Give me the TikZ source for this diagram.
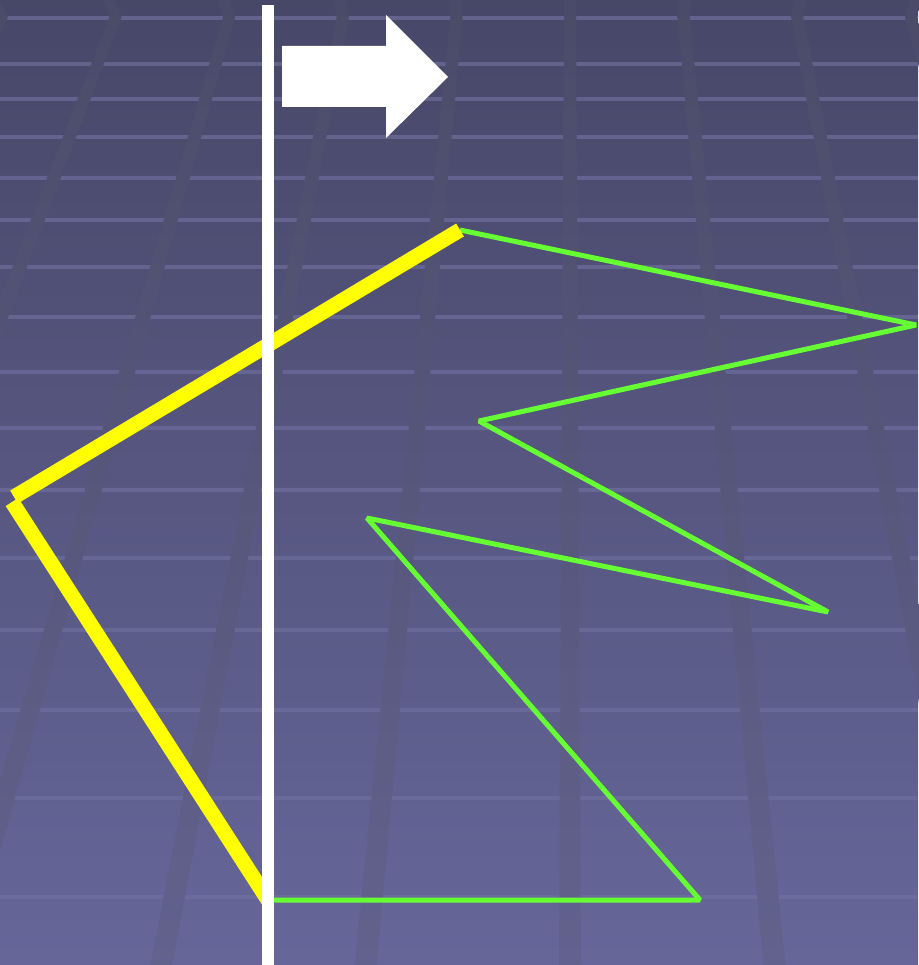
\documentclass[tikz,border=0pt]{standalone}
\usetikzlibrary{calc}

\definecolor{bgtop}{RGB}{71,71,104}
\definecolor{bgbottom}{RGB}{102,102,154}
\definecolor{tileline}{RGB}{112,112,160}
\definecolor{groutline}{RGB}{88,88,108}
\definecolor{sweepgreen}{RGB}{102,255,51}
\definecolor{hullyellow}{RGB}{255,255,0}

\tikzset{
    floorshade/.style={top color=bgtop, bottom color=bgbottom},
    hulledge/.style={line width=15pt, hullyellow, line cap=butt},
    chainedge/.style={line width=5pt, sweepgreen, line join=bevel, line cap=butt},
    sweepline/.style={line width=12pt, white}
}

\begin{document}
\begin{tikzpicture}[x=1pt, y=-1pt]
    \useasboundingbox (0,0) rectangle (918,965);

    % Fondo con degradado
    \shade[floorshade] (0,0) rectangle (918,965);

    % Juntas horizontales del suelo
    \foreach \yy in {18,64,99,137,178,220,267,317,372,428,490,558,630,710,798,897}
        \draw[tileline, line width=4pt, opacity=0.65] (0,\yy) -- (918,\yy);

    % Juntas en perspectiva (punto de fuga arriba)
    \foreach \k in {-5,...,3} {
        \pgfmathsetmacro{\xa}{570+112*\k*(1204/1170)}
        \pgfmathsetmacro{\xb}{570+112*\k*(1187/1170)}
        \pgfmathsetmacro{\xc}{570+112*\k*(2135/1170)}
        \shade[floorshade]
            (\xa-6,0) -- (\xb-6,17) -- (\xc-11,965) -- (\xc+11,965) -- (\xb+6,17) -- (\xa+6,0) -- cycle;
        \fill[groutline, opacity=0.25]
            (\xa-6,0) -- (\xb-6,17) -- (\xc-11,965) -- (\xc+11,965) -- (\xb+6,17) -- (\xa+6,0) -- cycle;
    }

    % Vertices del poligono
    \coordinate (top) at (460,230);
    \coordinate (left) at (14,497);
    \coordinate (leftb) at (12,502);
    \coordinate (bottom) at (268,900);
    \coordinate (br) at (700,900);
    \coordinate (in1) at (367,518);
    \coordinate (out1) at (828,612);
    \coordinate (in2) at (479,421);
    \coordinate (out2) at (916,325);

    % Cadena verde (aun no procesada)
    \draw[chainedge] (bottom) -- (br) -- (in1) -- (out1) -- (in2) -- (out2) -- (top);

    % Envolvente amarilla (ya procesada)
    \draw[hulledge] (top) -- (left);
    \draw[hulledge] (leftb) -- (bottom);

    % Linea de barrido
    \coordinate (sweeptop) at (268,5);
    \coordinate (sweepbottom) at (268,965);
    \draw[sweepline] (sweeptop) -- (sweepbottom);

    % Flecha de direccion del barrido
    \fill[white] (282,46) -- (386,46) -- (386,15) -- (448,77) -- (386,138) -- (386,107) -- (282,107) -- cycle;
\end{tikzpicture}
\end{document}
